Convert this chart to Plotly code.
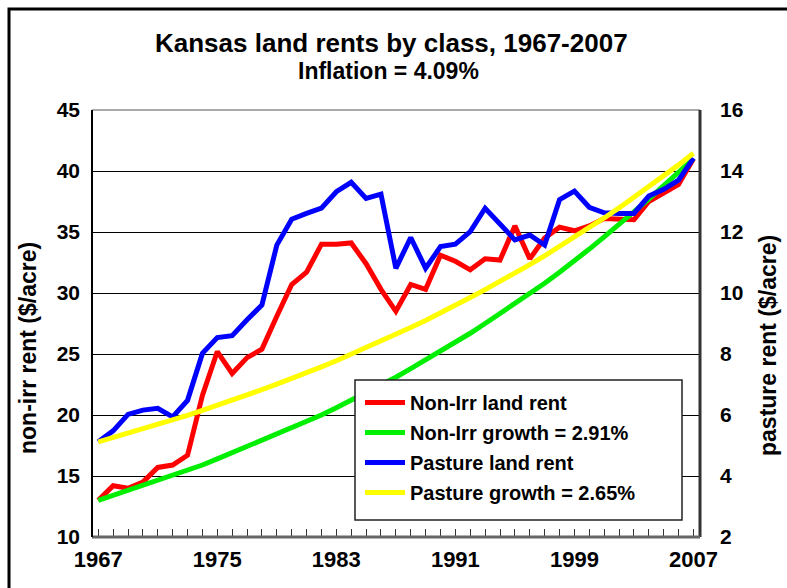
import plotly.graph_objects as go

years = list(range(1967, 2008))

# Non-irrigated land rent ($/acre), left axis
nonirr_rent = [13.0, 14.2, 14.0, 14.5, 15.7, 15.9, 16.7, 21.6, 25.2, 23.4,
               24.7, 25.4, 28.1, 30.7, 31.7, 34.0, 34.0, 34.1, 32.4, 30.3,
               28.5, 30.7, 30.3, 33.1, 32.6, 31.9, 32.8, 32.7, 35.5, 32.8,
               34.5, 35.4, 35.1, 35.5, 36.1, 36.0, 36.0, 37.5, 38.2, 38.9, 41.0]

# Non-irrigated growth trend (2.91%), left axis
nonirr_growth = [13.0, 13.4, 13.8, 14.2, 14.6, 15.0, 15.5, 15.9, 16.4, 16.9,
                 17.4, 17.9, 18.4, 18.9, 19.5, 20.0, 20.6, 21.2, 21.8, 22.5,
                 23.1, 23.8, 24.5, 25.2, 25.9, 26.7, 27.5, 28.3, 29.1, 29.9,
                 30.8, 31.7, 32.6, 33.6, 34.6, 35.6, 36.6, 37.7, 38.8, 39.9, 41.0]

# Pasture land rent ($/acre), right axis
pasture_rent = [5.12, 5.48, 6.02, 6.16, 6.22, 5.94, 6.48, 8.02, 8.54, 8.60,
                9.12, 9.61, 11.57, 12.42, 12.61, 12.78, 13.32, 13.63, 13.10, 13.24,
                10.81, 11.82, 10.81, 11.52, 11.60, 12.01, 12.78, 12.23, 11.74, 11.90,
                11.57, 13.06, 13.34, 12.81, 12.63, 12.61, 12.61, 13.18, 13.40, 13.70, 14.42]

# Pasture growth trend (2.65%), right axis
pasture_growth = [5.12, 5.26, 5.39, 5.54, 5.68, 5.84, 5.99, 6.15, 6.31, 6.48,
                  6.65, 6.83, 7.01, 7.19, 7.38, 7.58, 7.78, 7.99, 8.20, 8.42,
                  8.64, 8.87, 9.10, 9.34, 9.59, 9.85, 10.11, 10.37, 10.65, 10.93,
                  11.22, 11.52, 11.82, 12.14, 12.46, 12.79, 13.13, 13.48, 13.83, 14.20, 14.58]

series_names = ["Non-Irr land rent", "Non-Irr growth = 2.91%",
                "Pasture land rent", "Pasture growth = 2.65%"]
left_ticks = [10, 15, 20, 25, 30, 35, 40, 45]
right_ticks = [2, 4, 6, 8, 10, 12, 14, 16]
x_tick_years = [1967, 1975, 1983, 1991, 1999, 2007]

FONT = "Liberation Sans, Arial, sans-serif"

W, H = 787, 588
L, R, T, B = 92, 87, 110, 51
PW, PH = W - L - R, H - T - B


def px(x):
    return (x - L) / PW


def py(y):
    return (H - B - y) / PH


fig = go.Figure()
data = [
    (nonirr_rent, "#ff0000", "y"),
    (nonirr_growth, "#00ee00", "y"),
    (pasture_rent, "#0000ff", "y2"),
    (pasture_growth, "#ffff00", "y2"),
]
for i, (vals, col, ax) in enumerate(data):
    fig.add_trace(go.Scatter(
        x=years, y=vals, mode="lines", name=series_names[i], yaxis=ax,
        line=dict(color=col, width=5), legendgroup=f"g{i}",
    ))

tickfont = dict(family=FONT, size=21, color="black", weight="bold")

fig.update_layout(
    width=W, height=H,
    margin=dict(l=L, r=R, t=T, b=B, autoexpand=False),
    paper_bgcolor="white", plot_bgcolor="white",
    showlegend=True,
    legend=dict(x=px(360), y=py(383), xanchor="left", yanchor="top",
                bgcolor="rgba(0,0,0,0)", borderwidth=0,
                font=dict(family=FONT, size=20, color="black", weight="bold"),
                tracegroupgap=1, itemwidth=40),
    xaxis=dict(range=[1966.58, 2007.44], tickmode="array", tickvals=x_tick_years,
               ticktext=[str(v) for v in x_tick_years],
               ticks="inside", ticklen=8, tickcolor="#333", tickwidth=1,
               minor=dict(dtick=1, tick0=1967, ticks="inside", ticklen=8,
                          tickcolor="#333", tickwidth=1, showgrid=False),
               showgrid=False, zeroline=False, showline=False, automargin=False,
               tickfont=dict(family=FONT, size=22, color="black", weight="bold"),
               ticklabelstandoff=7),
    yaxis=dict(range=[10, 45], tickvals=left_ticks, showgrid=True,
               gridcolor="black", gridwidth=1, zeroline=False, showline=False,
               ticks="", tickfont=tickfont, ticklabelstandoff=11, automargin=False),
    yaxis2=dict(range=[2, 16], tickvals=right_ticks, overlaying="y", side="right",
                showgrid=False, zeroline=False, showline=False, ticks="",
                tickfont=tickfont, ticklabelstandoff=19, automargin=False),
)

shapes = [
    # outer chart border
    dict(type="rect", xref="paper", yref="paper", x0=px(9), x1=px(800),
         y0=py(610), y1=py(9), line=dict(color="black", width=3), layer="below"),
    # plot frame
    dict(type="line", xref="paper", yref="paper", x0=0, x1=1, y0=1, y1=1,
         line=dict(color="#555", width=1)),
    dict(type="line", xref="paper", yref="paper", x0=1, x1=1, y0=0, y1=1,
         line=dict(color="#333", width=3)),
    dict(type="line", xref="paper", yref="paper", x0=0, x1=1, y0=0, y1=0,
         line=dict(color="#666", width=3)),
    dict(type="line", xref="paper", yref="paper", x0=0, x1=0, y0=0, y1=1,
         line=dict(color="black", width=2)),
    # legend box
    dict(type="rect", xref="paper", yref="paper", x0=px(355), x1=px(682),
         y0=py(520), y1=py(380), fillcolor="white",
         line=dict(color="#222", width=1.5), layer="above"),
]
fig.update_layout(shapes=shapes)

annotations = [
    dict(text="Kansas land rents by class, 1967-2007", x=px(391), y=py(43),
         font=dict(family=FONT, size=26, color="black", weight="bold")),
    dict(text="Inflation = 4.09%", x=px(388), y=py(71),
         font=dict(family=FONT, size=23, color="black", weight="bold")),
    dict(text="non-irr rent ($/acre)", x=px(28), y=py(348), textangle=-90,
         font=dict(family=FONT, size=23, color="black", weight="bold")),
    dict(text="pasture rent ($/acre)", x=px(768), y=py(346), textangle=-90,
         font=dict(family=FONT, size=23, color="black", weight="bold")),
]
for a in annotations:
    a.update(xref="paper", yref="paper", showarrow=False, xanchor="center", yanchor="middle")
fig.update_layout(annotations=annotations)

fig.write_html("out.html", config={"displayModeBar": False},
               post_script="document.body.style.margin='0';document.body.style.overflow='hidden';")
